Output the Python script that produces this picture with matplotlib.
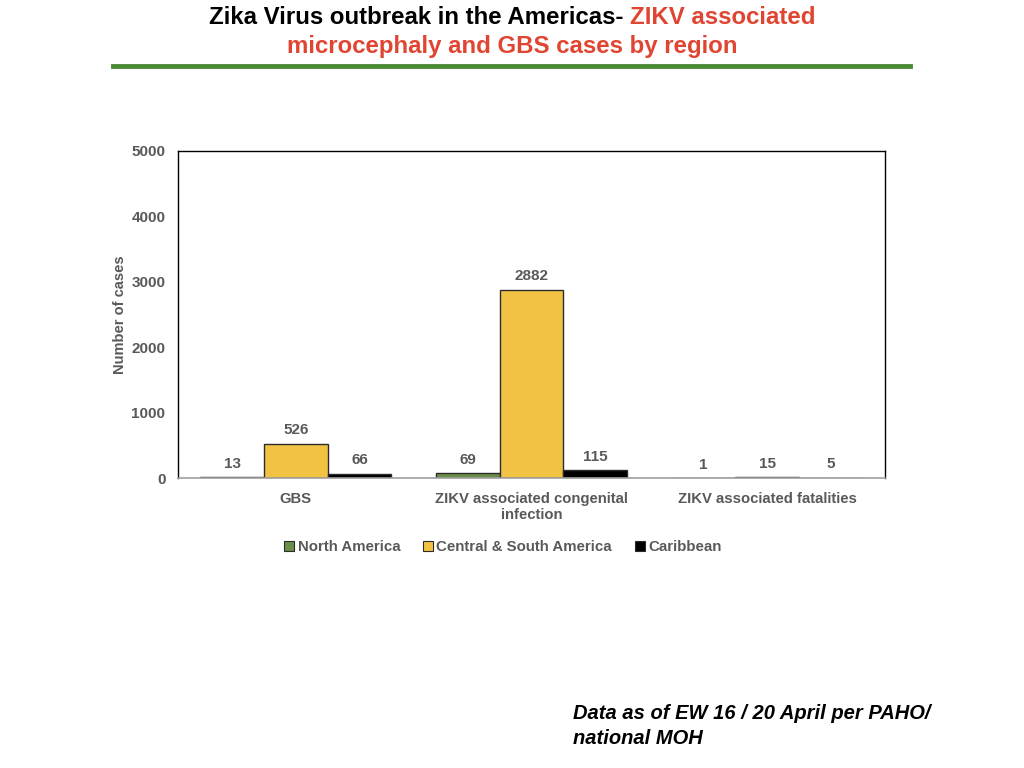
import numpy as np
import matplotlib
matplotlib.use('Agg')
import matplotlib.pyplot as plt
from matplotlib.lines import Line2D

# data
categories = ['GBS', 'ZIKV associated congenital\ninfection', 'ZIKV associated fatalities']
north_america = [13, 69, 1]
central_south = [526, 2882, 15]
caribbean = [66, 115, 5]
series_names = ['North America', 'Central & South America', 'Caribbean']
series_colors = ['#6a8f4a', '#f2c343', '#000000']

plt.rcParams['font.family'] = ['Liberation Sans', 'DejaVu Sans']

fig = plt.figure(figsize=(10.24, 7.68), dpi=100)
ax = fig.add_axes([0.1738, 0.3776, 0.6904, 0.4258])

x = np.arange(len(categories))
w = 0.27
grey = '#595959'
for i, (vals, col) in enumerate(zip([north_america, central_south, caribbean], series_colors)):
    pos = x + (i - 1) * w
    ax.bar(pos, vals, w, color=col, edgecolor='#2b2b2b', linewidth=1.0, label=series_names[i], zorder=2)
    for p, v in zip(pos, vals):
        ax.annotate(str(v), (p, v), xytext=(0, 4.5), textcoords='offset points',
                    ha='center', va='bottom', fontsize=11, fontweight='bold', color=grey)

ax.set_xlim(-0.5, 2.5)
ax.set_ylim(0, 5000)
ax.set_yticks([0, 1000, 2000, 3000, 4000, 5000])
ax.set_xticks(x)
ax.set_xticklabels(categories, fontsize=10.7, fontweight='bold', color=grey)
ax.tick_params(axis='both', length=0)
ax.tick_params(axis='y', pad=9, labelsize=11, labelcolor=grey)
ax.tick_params(axis='x', pad=10)
for t in ax.get_yticklabels():
    t.set_fontweight('bold')
ax.set_ylabel('Number of cases', fontsize=10.5, fontweight='bold', color=grey, labelpad=3)
for s in ['left', 'top', 'right']:
    ax.spines[s].set_color('black')
    ax.spines[s].set_linewidth(1.0)
ax.spines['bottom'].set_color('#a0a0a0')
ax.spines['bottom'].set_linewidth(1.2)

handles = [Line2D([], [], marker='s', linestyle='none', markersize=7,
                  markerfacecolor=c, markeredgecolor='#2b2b2b', markeredgewidth=0.8)
           for c in series_colors]
leg = fig.legend(handles, series_names, loc='center', bbox_to_anchor=(0.488, 0.288), ncol=3,
                 frameon=False, handletextpad=-0.2, columnspacing=1.1, handlelength=1.5,
                 prop={'size': 10.8, 'weight': 'bold'})
for t in leg.get_texts():
    t.set_color(grey)

# title in two colours
red = '#e04532'
fig.canvas.draw()
r = fig.canvas.get_renderer()
part1 = 'Zika Virus outbreak in the Americas- '
part2 = 'ZIKV associated'
t1 = fig.text(0, 1 - 17 / 768, part1, fontsize=17.3, fontweight='bold', color='black', va='center')
t2 = fig.text(0, 1 - 17 / 768, part2, fontsize=17.3, fontweight='bold', color=red, va='center')
w1 = t1.get_window_extent(r).width / 1024
w2 = t2.get_window_extent(r).width / 1024
start = 0.5 - (w1 + w2) / 2
t1.set_x(start)
t2.set_x(start + w1)
fig.text(0.5, 1 - 46 / 768, 'microcephaly and GBS cases by region', fontsize=17.3, fontweight='bold',
         color=red, ha='center', va='center')
fig.add_artist(Line2D([113 / 1024, 910 / 1024], [1 - 66 / 768, 1 - 66 / 768], color='#4a8a33', linewidth=3.5))

fig.text(573 / 1024, 1 - 726 / 768, 'Data as of EW 16 / 20 April per PAHO/\nnational MOH',
         fontsize=14.5, fontweight='bold', style='italic', color='black', va='center', ha='left',
         linespacing=1.4)

fig.savefig('out.png', dpi=100)
